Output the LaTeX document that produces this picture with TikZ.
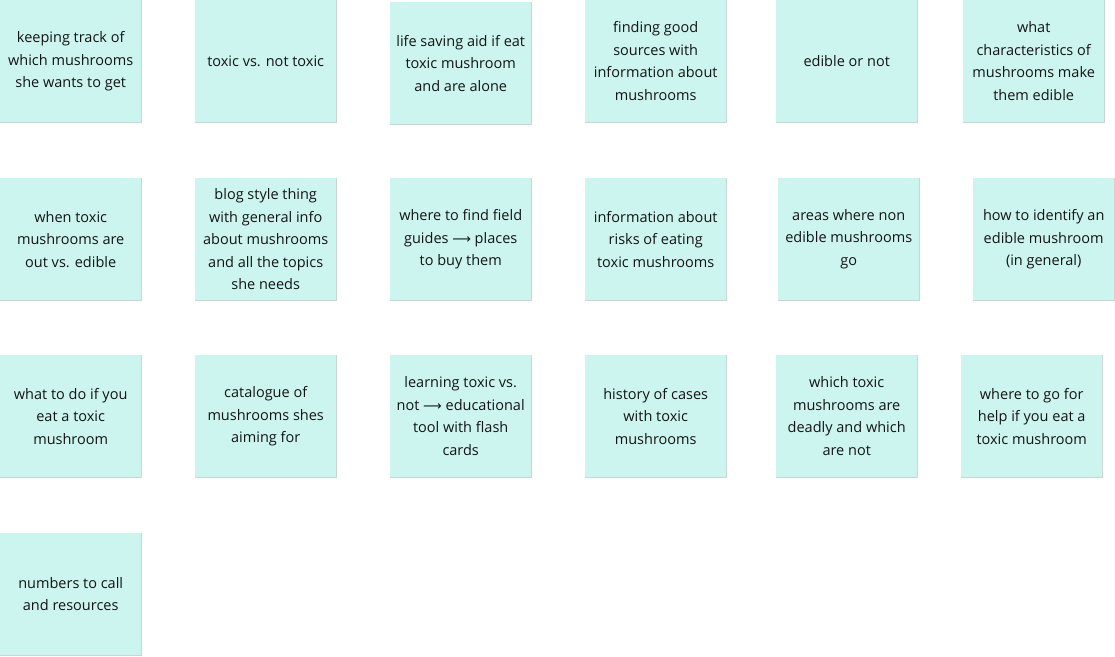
\documentclass[tikz,border=0pt]{standalone}
\usepackage{fontspec}
\setmainfont{Open Sans}
\newfontfamily\arrowfont{DejaVu Sans}
\definecolor{stickyfill}{HTML}{CCF5EF}
\definecolor{stickyedge}{HTML}{C9D6D4}
\definecolor{stickytext}{HTML}{141414}
\tikzset{
  sticky/.style={rectangle, fill=stickyfill, anchor=north west,
    minimum width=141pt, minimum height=122pt, inner sep=0pt,
    align=center, text=stickytext,
    font=\fontsize{14.5pt}{22.5pt}\selectfont},
  edgeline/.style={draw=stickyedge, line width=0.8pt}
}
\newcommand{\longarr}{{\arrowfont\fontsize{13pt}{22.5pt}\selectfont ⟶}}
\newcommand{\sticky}[4]{%
  \node[sticky] (#1) at (#2pt,-#3pt) {#4};
  \draw[edgeline] (#1.north east) -- (#1.south east) -- (#1.south west);
}
\begin{document}
\begin{tikzpicture}[x=1pt,y=1pt]
\useasboundingbox (0,0) rectangle (1115,-656);
% row 1
\sticky{a1}{0}{0}{keeping track of\\which mushrooms\\she wants to get}
\sticky{a2}{195}{0}{toxic vs. not toxic}
\sticky{a3}{390}{2}{life saving aid if eat\\toxic mushroom\\and are alone}
\sticky{a4}{585}{0}{finding good\\sources with\\information about\\mushrooms}
\sticky{a5}{776}{0}{edible or not}
\sticky{a6}{963}{0}{what\\characteristics of\\mushrooms make\\them edible}
% row 2
\sticky{b1}{0}{178}{when toxic\\mushrooms are\\out vs. edible}
\sticky{b2}{195}{178}{blog style thing\\with general info\\about mushrooms\\and all the topics\\she needs}
\sticky{b3}{390}{178}{where to find field\\guides \longarr{} places\\to buy them}
\sticky{b4}{585}{178}{information about\\risks of eating\\toxic mushrooms}
\sticky{b5}{778}{178}{areas where non\\edible mushrooms\\go}
\sticky{b6}{973}{178}{how to identify an\\edible mushroom\\(in general)}
% row 3
\sticky{c1}{0}{355}{what to do if you\\eat a toxic\\mushroom}
\sticky{c2}{195}{355}{catalogue of\\mushrooms shes\\aiming for}
\sticky{c3}{390}{355}{learning toxic vs.\\not \longarr{} educational\\tool with flash\\cards}
\sticky{c4}{585}{355}{history of cases\\with toxic\\mushrooms}
\sticky{c5}{776}{355}{which toxic\\mushrooms are\\deadly and which\\are not}
\sticky{c6}{961}{355}{where to go for\\help if you eat a\\toxic mushroom}
% row 4
\sticky{d1}{0}{533}{numbers to call\\and resources}
\end{tikzpicture}
\end{document}
